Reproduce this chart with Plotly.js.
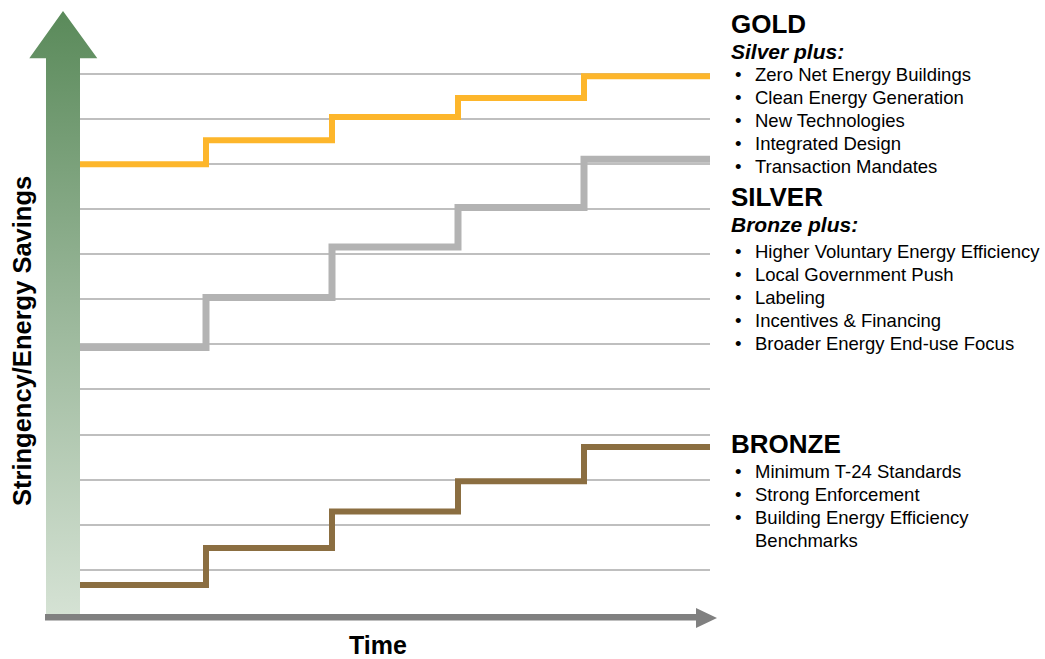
<!DOCTYPE html>
<html>
<head>
<meta charset="utf-8">
<script src="https://cdn.plot.ly/plotly-3.0.1.min.js"></script>
<style>html,body{margin:0;padding:0;background:#fff;}#chart{width:1045px;height:659px;}</style>
</head>
<body>
<div id="chart"></div>
<script>
// ---- data ----
const periods = [0, 1, 2, 3, 4, 5];
const goldLevels   = [10.0, 10.53, 11.05, 11.47, 11.95];
const silverLevels = [5.93, 7.04, 8.16, 9.04, 10.11];
const bronzeLevels = [0.66, 1.48, 2.29, 2.96, 3.72];
const gridLevels = [1, 2, 3, 4, 5, 6, 7, 8, 9, 10, 11, 12];

const tierNames = ["GOLD", "SILVER", "BRONZE"];
const tierSubtitles = ["Silver plus:", "Bronze plus:", ""];
const goldItems = ["Zero Net Energy Buildings", "Clean Energy Generation", "New Technologies", "Integrated Design", "Transaction Mandates"];
const silverItems = ["Higher Voluntary Energy Efficiency", "Local Government Push", "Labeling", "Incentives & Financing", "Broader Energy End-use Focus"];
const bronzeItems = ["Minimum T-24 Standards", "Strong Enforcement", "Building Energy Efficiency\nBenchmarks"];

const yTitle = "Stringency/Energy Savings";
const xTitle = "Time";

// ---- layout helpers ----
const W = 1045, H = 659;
const withLast = a => a.concat([a[a.length - 1]]);
const py = p => H - p; // pixel (top-down) -> overlay axis value

const stepTrace = (levels, color, width, name) => ({
  x: periods, y: withLast(levels), mode: 'lines', name: name,
  line: {shape: 'hv', color: color, width: width},
  xaxis: 'x', yaxis: 'y', hoverinfo: 'skip', showlegend: false
});

// decorative arrows (pixel space)
const vArrowX = [46, 46, 29.3, 63, 97.3, 80, 80, 46];
const vArrowY = [615, 58.3, 58.3, 11, 58.3, 58.3, 615, 615].map(py);
const hArrowX = [45, 696, 696, 717, 696, 696, 45, 45];
const hArrowY = [614, 614, 608, 618, 628, 620.5, 620.5, 614].map(py);

const traces = [
  {
    x: vArrowX, y: vArrowY, mode: 'lines', fill: 'toself',
    line: {width: 0, color: 'rgba(0,0,0,0)'},
    fillgradient: {type: 'vertical', start: py(615), stop: py(11),
      colorscale: [[0, '#d5e2d4'], [0.5, '#9ab79a'], [1, '#5a8a5a']]},
    xaxis: 'x2', yaxis: 'y2', hoverinfo: 'skip', showlegend: false
  },
  {
    x: hArrowX, y: hArrowY, mode: 'lines', fill: 'toself', fillcolor: '#808080',
    line: {width: 0, color: 'rgba(0,0,0,0)'},
    xaxis: 'x2', yaxis: 'y2', hoverinfo: 'skip', showlegend: false
  },
  stepTrace(bronzeLevels, '#8b6e41', 6, 'Bronze'),
  stepTrace(silverLevels, '#b3b3b3', 7, 'Silver'),
  stepTrace(goldLevels, '#fdb62b', 6, 'Gold')
];

// ---- text annotations ----
const bulletFont = {family: 'Liberation Sans, Arial, sans-serif', size: 18.5, color: '#000'};
const headFont = {family: 'Liberation Sans, Arial, sans-serif', size: 26, color: '#000'};
const subFont = {family: 'Liberation Sans, Arial, sans-serif', size: 21, color: '#000'};
const ann = [];
const addText = (text, x, y, font, extra) => ann.push(Object.assign({
  text: text, x: x, y: py(y), xref: 'x2', yref: 'y2', showarrow: false,
  xanchor: 'left', yanchor: 'middle', align: 'left', font: font
}, extra || {}));

const headY = [24, 197, 444];
const subY = [51, 224, null];
const itemStartY = [74, 251, 471];
const itemStep = 23.1;
const itemLists = [goldItems, silverItems, bronzeItems];

tierNames.forEach((t, i) => {
  addText('<b>' + t + '</b>', 729, headY[i], headFont);
  if (tierSubtitles[i]) addText('<b><i>' + tierSubtitles[i] + '</i></b>', 729, subY[i], subFont);
  let row = 0;
  itemLists[i].forEach(item => {
    const parts = item.split('\n');
    addText('•', 733, itemStartY[i] + row * itemStep, bulletFont);
    parts.forEach(p => {
      addText(p, 753, itemStartY[i] + row * itemStep, bulletFont);
      row++;
    });
  });
});

addText('<b>' + yTitle + '</b>', 22, 341, {family: 'Liberation Sans, Arial, sans-serif', size: 25.5, color: '#000'},
  {textangle: -90, xanchor: 'center', yanchor: 'middle'});
addText('<b>' + xTitle + '</b>', 378, 645, {family: 'Liberation Sans, Arial, sans-serif', size: 25, color: '#000'},
  {xanchor: 'center', yanchor: 'middle'});

// main axes: value 0 at pixel 614.7, 45.05 px per unit
const yTopVal = 13;
const yBottomPx = 614.7, pxPerUnit = 45.05;
const yTopPx = yBottomPx - yTopVal * pxPerUnit;

const layout = {
  width: W, height: H,
  margin: {l: 0, r: 0, t: 0, b: 0, pad: 0},
  paper_bgcolor: '#ffffff', plot_bgcolor: 'rgba(0,0,0,0)',
  showlegend: false,
  xaxis: {domain: [80 / W, 710 / W], range: [0, 5], showgrid: false, zeroline: false,
    showticklabels: false, ticks: '', showline: false, fixedrange: true},
  yaxis: {domain: [(H - yBottomPx) / H, (H - yTopPx) / H], range: [0, yTopVal],
    tickmode: 'array', tickvals: gridLevels, showgrid: true, gridcolor: '#bfbfbf', gridwidth: 2,
    zeroline: false, showticklabels: false, ticks: '', showline: false, fixedrange: true},
  xaxis2: {domain: [0, 1], range: [0, W], anchor: 'y2', visible: false, fixedrange: true},
  yaxis2: {domain: [0, 1], range: [0, H], anchor: 'x2', visible: false, fixedrange: true},
  annotations: ann
};

Plotly.newPlot('chart', traces, layout, {staticPlot: true, displayModeBar: false});
</script>
</body>
</html>
